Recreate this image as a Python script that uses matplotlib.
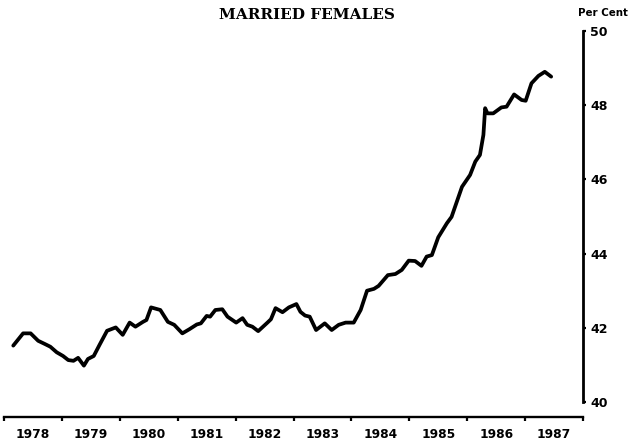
import matplotlib
matplotlib.use("Agg")
import matplotlib.pyplot as plt
import numpy as np

# married females participation rate (decimal year, per cent)
years = [1978.16, 1978.33, 1978.46, 1978.59, 1978.71, 1978.80, 1978.91, 1979.02,
         1979.11, 1979.20, 1979.28, 1979.38, 1979.45, 1979.55, 1979.65, 1979.78,
         1979.93, 1980.05, 1980.17, 1980.27, 1980.40, 1980.46, 1980.54, 1980.70,
         1980.83, 1980.94, 1981.08, 1981.20, 1981.33, 1981.40, 1981.50, 1981.56,
         1981.65, 1981.77, 1981.86, 1982.01, 1982.12, 1982.20, 1982.29, 1982.39,
         1982.55, 1982.61, 1982.69, 1982.81, 1982.92, 1983.05, 1983.12, 1983.20,
         1983.28, 1983.39, 1983.54, 1983.66, 1983.78, 1983.90, 1984.04, 1984.16,
         1984.27, 1984.39, 1984.47, 1984.63, 1984.76, 1984.87, 1984.99, 1985.10,
         1985.21, 1985.30, 1985.39, 1985.50, 1985.65, 1985.73, 1985.91, 1986.05,
         1986.14, 1986.22, 1986.28, 1986.31, 1986.35, 1986.45, 1986.59, 1986.68,
         1986.81, 1986.94, 1987.01, 1987.11, 1987.23, 1987.34, 1987.45]
pct = [41.52, 41.85, 41.85, 41.65, 41.56, 41.49, 41.34, 41.24,
       41.13, 41.11, 41.19, 40.98, 41.16, 41.24, 41.54, 41.92,
       42.01, 41.81, 42.14, 42.03, 42.16, 42.21, 42.55, 42.48,
       42.16, 42.08, 41.85, 41.96, 42.09, 42.12, 42.32, 42.30,
       42.48, 42.50, 42.30, 42.14, 42.26, 42.08, 42.03, 41.91,
       42.14, 42.23, 42.53, 42.42, 42.55, 42.64, 42.43, 42.33,
       42.30, 41.94, 42.12, 41.94, 42.08, 42.14, 42.14, 42.48,
       43.00, 43.05, 43.13, 43.42, 43.45, 43.56, 43.81, 43.80,
       43.67, 43.92, 43.96, 44.44, 44.82, 44.99, 45.80, 46.12,
       46.48, 46.66, 47.20, 47.92, 47.78, 47.78, 47.94, 47.96,
       48.29, 48.14, 48.12, 48.59, 48.79, 48.90, 48.77]

year_labels = ['1978', '1979', '1980', '1981', '1982',
               '1983', '1984', '1985', '1986', '1987']
y_ticks = [40, 42, 44, 46, 48, 50]

plt.rcParams['font.family'] = ['DejaVu Sans']

fig = plt.figure(figsize=(6.31, 4.46), dpi=100)
ax = fig.add_axes([4 / 631, 29 / 446, 579 / 631, 386 / 446])

ax.plot(years, pct, color='black', lw=2.7, solid_joinstyle='round',
        solid_capstyle='round')

ax.set_xlim(1978, 1988)
ax.set_ylim(40 - 15 / 37.1, 50)

for s in ['top', 'left']:
    ax.spines[s].set_visible(False)
ax.spines['bottom'].set_linewidth(1.7)
ax.spines['right'].set_linewidth(2.0)
ax.spines['right'].set_bounds(40, 50)

# year ticks at the boundaries, labels in the middle of each year
ax.set_xticks(np.arange(1978, 1989))
ax.set_xticklabels([])
ax.set_xticks(np.arange(1978, 1988) + 0.5, minor=True)
ax.set_xticklabels(year_labels, minor=True, fontsize=8.8, fontweight='bold')
ax.tick_params(axis='x', which='major', direction='out', length=3, width=1.6)
ax.tick_params(axis='x', which='minor', length=0, pad=8)

ax.yaxis.tick_right()
ax.set_yticks(y_ticks)
ax.set_yticklabels([str(v) for v in y_ticks], fontsize=9, fontweight='bold')
ax.tick_params(axis='y', direction='out', length=2, width=1.6, pad=3)

fig.text(307 / 631, 1 - 15 / 446, 'MARRIED FEMALES', ha='center', va='center',
         fontsize=11, fontweight='bold', family='DejaVu Serif')
fig.text(603 / 631, 1 - 12.5 / 446, 'Per Cent', ha='center', va='center',
         fontsize=7.4, fontweight='bold')

fig.savefig('out.png', dpi=100)
